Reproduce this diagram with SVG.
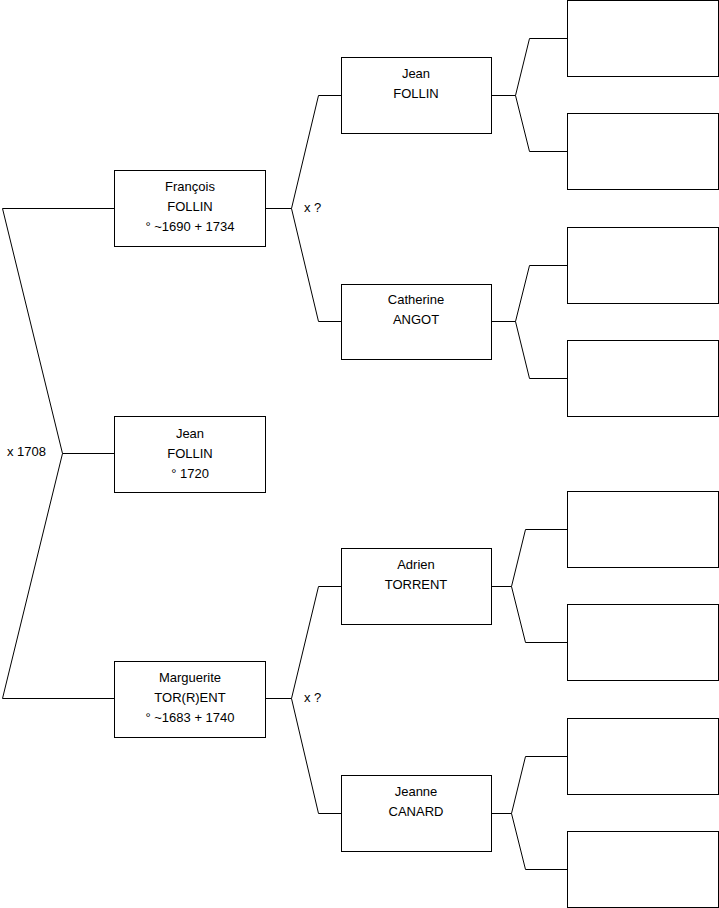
<svg xmlns="http://www.w3.org/2000/svg" width="719" height="908" viewBox="0 0 719 908">
<style>
.box{fill:#fff;stroke:#000;stroke-width:1}
.c{fill:none;stroke:#000;stroke-width:1}
text{font-family:"Liberation Sans",Arial,sans-serif;font-size:13px;fill:#000}
.m{text-anchor:middle}
</style>
<rect width="719" height="908" fill="#fff"/>
<g id="connectors">
<path class="c" d="M114.5 208.5 H2.5 L62.5 453.5 L2.5 698.5 H114.5 M62.5 453.5 H114.5"/>
<path class="c" d="M265.5 208.5 H291.5 M341.5 95.5 H318.5 L291.5 208.5 L318.5 321.5 H341.5"/>
<path class="c" d="M265.5 698.5 H291.5 M341.5 586.5 H318.5 L291.5 698.5 L318.5 813.5 H341.5"/>
<path class="c" d="M491.5 95.5 H515.5 M567.5 38.5 H529.5 L515.5 95.5 L529.5 151.5 H567.5"/>
<path class="c" d="M491.5 321.5 H515.5 M567.5 265.5 H529.5 L515.5 321.5 L529.5 378.5 H567.5"/>
<path class="c" d="M491.5 586.5 H511.5 M567.5 529.5 H525.5 L511.5 586.5 L525.5 642.5 H567.5"/>
<path class="c" d="M491.5 813.5 H511.5 M567.5 756.5 H525.5 L511.5 813.5 L525.5 869.5 H567.5"/>
<text x="7" y="456">x 1708</text>
<text x="304" y="212">x ?</text>
<text x="304" y="702">x ?</text>
</g>
<g id="francois">
<rect class="box" x="114.5" y="170.5" width="151" height="76"/>
<text class="m" x="190" y="191">François</text>
<text class="m" x="190" y="211">FOLLIN</text>
<text class="m" x="190" y="231">° ~1690 + 1734</text>
</g>
<g id="jean1">
<rect class="box" x="114.5" y="416.5" width="151" height="76"/>
<text class="m" x="190" y="438">Jean</text>
<text class="m" x="190" y="458">FOLLIN</text>
<text class="m" x="190" y="478">° 1720</text>
</g>
<g id="marguerite">
<rect class="box" x="114.5" y="661.5" width="151" height="76"/>
<text class="m" x="190" y="682">Marguerite</text>
<text class="m" x="190" y="702">TOR(R)ENT</text>
<text class="m" x="190" y="722">° ~1683 + 1740</text>
</g>
<g id="jean2">
<rect class="box" x="341.5" y="57.5" width="150" height="76"/>
<text class="m" x="416" y="78">Jean</text>
<text class="m" x="416" y="98">FOLLIN</text>
</g>
<g id="catherine">
<rect class="box" x="341.5" y="284.5" width="150" height="75"/>
<text class="m" x="416" y="304">Catherine</text>
<text class="m" x="416" y="324">ANGOT</text>
</g>
<g id="adrien">
<rect class="box" x="341.5" y="548.5" width="150" height="76"/>
<text class="m" x="416" y="569">Adrien</text>
<text class="m" x="416" y="589">TORRENT</text>
</g>
<g id="jeanne">
<rect class="box" x="341.5" y="775.5" width="150" height="76"/>
<text class="m" x="416" y="796">Jeanne</text>
<text class="m" x="416" y="816">CANARD</text>
</g>
<g id="g3a"><rect class="box" x="567.5" y="0.5" width="151" height="76"/></g>
<g id="g3b"><rect class="box" x="567.5" y="113.5" width="151" height="76"/></g>
<g id="g3c"><rect class="box" x="567.5" y="227.5" width="151" height="76"/></g>
<g id="g3d"><rect class="box" x="567.5" y="340.5" width="151" height="76"/></g>
<g id="g3e"><rect class="box" x="567.5" y="491.5" width="151" height="76"/></g>
<g id="g3f"><rect class="box" x="567.5" y="604.5" width="151" height="76"/></g>
<g id="g3g"><rect class="box" x="567.5" y="718.5" width="151" height="76"/></g>
<g id="g3h"><rect class="box" x="567.5" y="831.5" width="151" height="76"/></g>
</svg>
